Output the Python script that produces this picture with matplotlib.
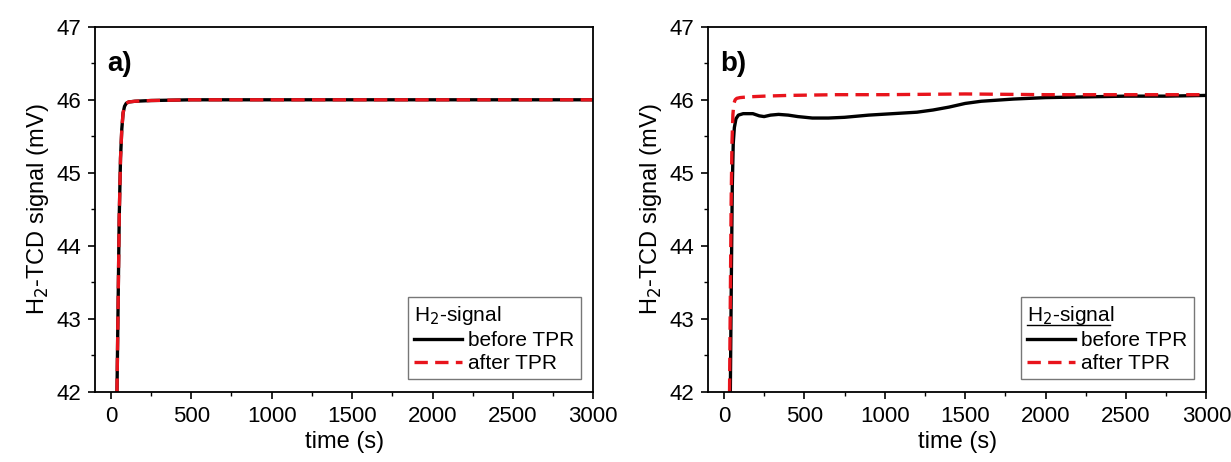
import matplotlib
matplotlib.use("Agg")
import matplotlib.pyplot as plt
from matplotlib.ticker import MultipleLocator

plt.rcParams["font.family"] = ["Liberation Sans", "DejaVu Sans"]

# panel a) - both curves practically overlap
a_time = [38, 45, 52, 60, 68, 76, 85, 95, 110, 150, 250, 500, 1000, 1500, 2000, 2500, 3000]
a_before = [42.0, 43.2, 44.4, 45.2, 45.6, 45.82, 45.91, 45.95, 45.97, 45.98, 45.99, 46.0, 46.0, 46.0, 46.0, 46.0, 46.0]
a_after = [42.0, 43.2, 44.4, 45.2, 45.6, 45.82, 45.91, 45.95, 45.97, 45.98, 45.99, 46.0, 46.0, 46.0, 46.0, 46.0, 46.0]

# panel b)
b_time_before = [40, 46, 52, 58, 65, 75, 90, 120, 180, 220, 250, 290, 340, 400, 460, 550, 650, 750, 900,
                 1050, 1200, 1300, 1400, 1500, 1600, 1800, 2000, 2250, 2500, 2750, 3000]
b_before = [42.0, 43.5, 44.8, 45.4, 45.62, 45.74, 45.79, 45.81, 45.81, 45.78, 45.77, 45.79, 45.8, 45.79, 45.77,
            45.75, 45.75, 45.76, 45.79, 45.81, 45.83, 45.86, 45.9, 45.95, 45.98, 46.01, 46.03, 46.04, 46.05, 46.05, 46.06]
b_time_after = [35, 40, 45, 50, 56, 62, 70, 80, 100, 150, 250, 400, 700, 1000, 1500, 2000, 2500, 3000]
b_after = [42.0, 43.3, 44.6, 45.4, 45.8, 45.95, 46.0, 46.02, 46.03, 46.04, 46.05, 46.06, 46.07, 46.07, 46.08, 46.07, 46.07, 46.07]

panels = [
    ("a)", a_time, a_before, a_time, a_after, False),
    ("b)", b_time_before, b_before, b_time_after, b_after, True),
]

fig = plt.figure(figsize=(12.31, 4.62), dpi=100)
positions = [[0.077, 0.152, 0.405, 0.79], [0.575, 0.152, 0.405, 0.79]]

for pos, (tag, t1, y1, t2, y2, underline) in zip(positions, panels):
    ax = fig.add_axes(pos)
    ax.plot(t1, y1, color="black", lw=2.4, label="before TPR")
    ax.plot(t2, y2, color="#e8141c", lw=2.4, ls=(0, (4, 2.2)), label="after TPR")
    ax.set_xlim(-100, 3000)
    ax.set_ylim(42, 47)
    ax.xaxis.set_major_locator(MultipleLocator(500))
    ax.xaxis.set_minor_locator(MultipleLocator(250))
    ax.yaxis.set_major_locator(MultipleLocator(1))
    ax.yaxis.set_minor_locator(MultipleLocator(0.5))
    ax.tick_params(which="major", direction="out", length=5, width=1.2, labelsize=16, pad=5)
    ax.tick_params(which="minor", direction="out", length=3, width=1.0)
    for spine in ax.spines.values():
        spine.set_linewidth(1.3)
    ax.set_xlabel("time (s)", fontsize=17, labelpad=3)
    ax.set_ylabel("H$_2$-TCD signal (mV)", fontsize=17, labelpad=4)
    ax.text(0.025, 0.935, tag, transform=ax.transAxes, fontsize=20, fontweight="bold", va="top")
    leg = ax.legend(loc="lower right", title="H$_2$-signal", fontsize=15, title_fontsize=15,
                    frameon=True, fancybox=False, edgecolor="#555555", handlelength=2.3,
                    handletextpad=0.3, borderaxespad=0.6, borderpad=0.3, labelspacing=0.2,
                    alignment="left")
    leg.get_frame().set_linewidth(1.0)
    if underline:
        # underline the legend title in panel b
        fig.canvas.draw()
        bb = leg.get_title().get_window_extent().transformed(fig.transFigure.inverted())
        fig.add_artist(plt.Line2D([bb.x0, bb.x1 - 0.004], [bb.y0 + 0.003, bb.y0 + 0.003],
                                  transform=fig.transFigure, color="black", lw=1.0))

fig.savefig("out.png", dpi=100)
